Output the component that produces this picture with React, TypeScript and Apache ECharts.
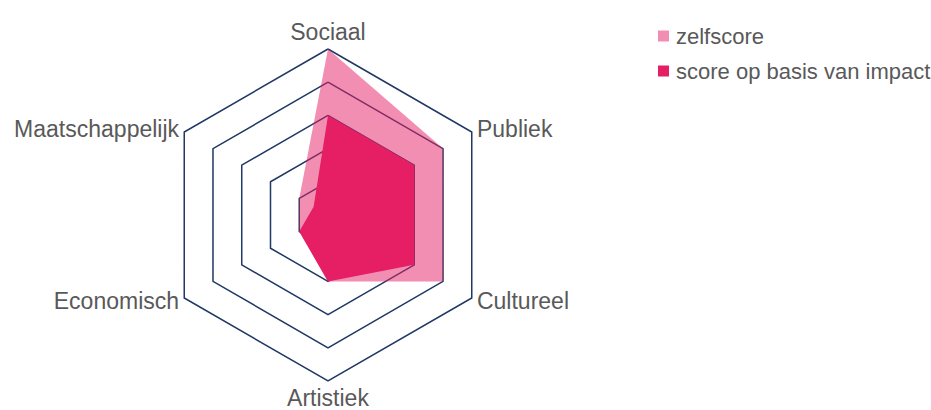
import React, { useEffect, useRef } from "react";
import * as echarts from "echarts";

// Indicators listed counter-clockwise from the top (ECharts default direction)
const categories = ["Sociaal", "Maatschappelijk", "Economisch", "Artistiek", "Cultureel", "Publiek"];
const maxValue = 5;
const seriesNames = ["zelfscore", "score op basis van impact"];
const zelfscore = [5, 1, 1, 2, 4, 4];
const impactScore = [3, 0.5, 1, 2, 3, 3];

const PINK = "rgb(230,30,100)";
const PINK_LIGHT = "rgba(230,30,100,0.5)";
const FONT = "Arial, 'Liberation Sans', sans-serif";

export default function App() {
  const ref = useRef<HTMLDivElement>(null);
  useEffect(() => {
    document.body.style.margin = "0";
    if (!ref.current) return;
    const chart = echarts.init(ref.current, undefined, { renderer: "svg" });
    chart.setOption({
      animation: false,
      backgroundColor: "#ffffff",
      legend: {
        orient: "vertical",
        left: 658,
        top: 25,
        padding: 0,
        itemWidth: 11,
        itemHeight: 11,
        itemGap: 13,
        icon: "rect",
        textStyle: { fontSize: 22, color: "#595959", fontFamily: FONT, padding: [0, 0, 0, 2] },
        data: seriesNames,
      },
      radar: {
        center: [328, 215],
        radius: 166,
        startAngle: 90,
        splitNumber: 5,
        shape: "polygon",
        nameGap: 6,
        axisName: { color: "#595959", fontSize: 23, lineHeight: 22, fontFamily: FONT },
        indicator: categories.map((name) => ({ name, max: maxValue, min: 0 })),
        axisLine: { show: false },
        axisTick: { show: false },
        axisLabel: { show: false },
        splitArea: { show: false },
        splitLine: { lineStyle: { color: "#1F3864", width: 1.5 } },
      },
      series: [
        {
          type: "radar",
          symbol: "none",
          data: [
            {
              name: seriesNames[0],
              value: zelfscore,
              itemStyle: { color: PINK_LIGHT },
              lineStyle: { width: 0, opacity: 0 },
              areaStyle: { color: PINK_LIGHT, opacity: 1 },
            },
            {
              name: seriesNames[1],
              value: impactScore,
              itemStyle: { color: PINK },
              lineStyle: { width: 0, opacity: 0 },
              areaStyle: { color: PINK, opacity: 1 },
            },
          ],
        },
      ],
    });
    return () => chart.dispose();
  }, []);
  return <div ref={ref} style={{ width: 931, height: 410 }} />;
}
